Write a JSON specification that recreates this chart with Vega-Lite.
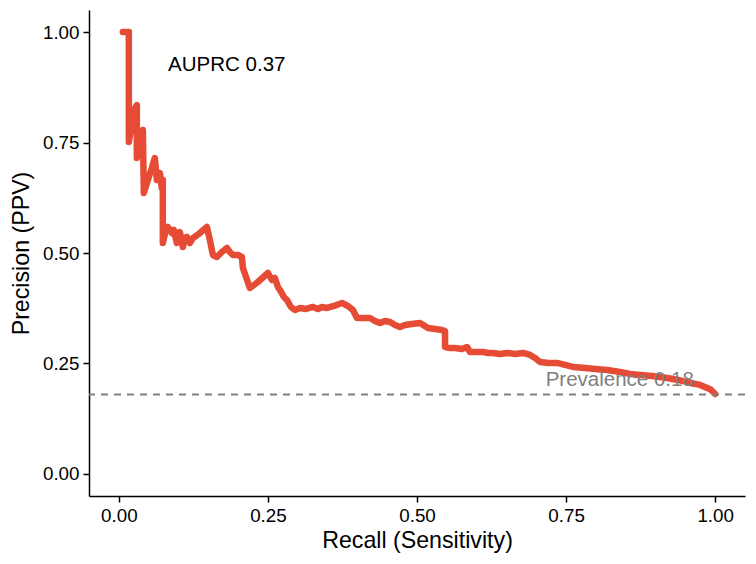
{
  "$schema": "https://vega.github.io/schema/vega-lite/v6.json",
  "width": 656,
  "height": 486,
  "autosize": {"type": "none"},
  "padding": {"left": 89, "top": 10, "right": 11, "bottom": 68},
  "background": "white",
  "config": {
    "view": {"stroke": null},
    "axis": {
      "grid": false,
      "domainColor": "black",
      "domainWidth": 1.5,
      "tickColor": "black",
      "tickWidth": 1.5,
      "tickSize": 6,
      "labelFont": "Liberation Sans",
      "labelFontSize": 18.8,
      "labelColor": "black",
      "labelPadding": 4,
      "titleFont": "Liberation Sans",
      "titleFontSize": 23.2,
      "titleFontWeight": "normal",
      "titleColor": "black",
      "titlePadding": 5
    }
  },
  "datasets": {
    "curve": [
      {"i": 1, "recall": 0.0067, "precision": 1.0},
      {"i": 2, "recall": 0.0168, "precision": 1.0},
      {"i": 3, "recall": 0.0168, "precision": 0.7511},
      {"i": 4, "recall": 0.0201, "precision": 0.7783},
      {"i": 5, "recall": 0.0252, "precision": 0.8235},
      {"i": 6, "recall": 0.0302, "precision": 0.8348},
      {"i": 7, "recall": 0.0302, "precision": 0.7149},
      {"i": 8, "recall": 0.0352, "precision": 0.733},
      {"i": 9, "recall": 0.0403, "precision": 0.7783},
      {"i": 10, "recall": 0.0419, "precision": 0.6357},
      {"i": 11, "recall": 0.0487, "precision": 0.6652},
      {"i": 12, "recall": 0.0554, "precision": 0.6923},
      {"i": 13, "recall": 0.0604, "precision": 0.7149},
      {"i": 14, "recall": 0.0638, "precision": 0.6652},
      {"i": 15, "recall": 0.0688, "precision": 0.681},
      {"i": 16, "recall": 0.0721, "precision": 0.6471},
      {"i": 17, "recall": 0.0738, "precision": 0.6652},
      {"i": 18, "recall": 0.0738, "precision": 0.5226},
      {"i": 19, "recall": 0.0789, "precision": 0.552},
      {"i": 20, "recall": 0.0822, "precision": 0.5588},
      {"i": 21, "recall": 0.0889, "precision": 0.5452},
      {"i": 22, "recall": 0.0923, "precision": 0.552},
      {"i": 23, "recall": 0.0973, "precision": 0.5226},
      {"i": 24, "recall": 0.1023, "precision": 0.5475},
      {"i": 25, "recall": 0.1074, "precision": 0.5136},
      {"i": 26, "recall": 0.1107, "precision": 0.5339},
      {"i": 27, "recall": 0.1141, "precision": 0.5362},
      {"i": 28, "recall": 0.1191, "precision": 0.5226},
      {"i": 29, "recall": 0.1242, "precision": 0.5339},
      {"i": 30, "recall": 0.1359, "precision": 0.5452},
      {"i": 31, "recall": 0.1477, "precision": 0.5588},
      {"i": 32, "recall": 0.1527, "precision": 0.5294},
      {"i": 33, "recall": 0.1577, "precision": 0.4955},
      {"i": 34, "recall": 0.1644, "precision": 0.491},
      {"i": 35, "recall": 0.1728, "precision": 0.5023},
      {"i": 36, "recall": 0.1812, "precision": 0.5113},
      {"i": 37, "recall": 0.1862, "precision": 0.5023},
      {"i": 38, "recall": 0.1913, "precision": 0.4955},
      {"i": 39, "recall": 0.1997, "precision": 0.4955},
      {"i": 40, "recall": 0.2064, "precision": 0.491},
      {"i": 41, "recall": 0.2081, "precision": 0.4661},
      {"i": 42, "recall": 0.2198, "precision": 0.4208},
      {"i": 43, "recall": 0.2332, "precision": 0.4344},
      {"i": 44, "recall": 0.25, "precision": 0.4548},
      {"i": 45, "recall": 0.2567, "precision": 0.4389},
      {"i": 46, "recall": 0.2617, "precision": 0.4434},
      {"i": 47, "recall": 0.2668, "precision": 0.4231},
      {"i": 48, "recall": 0.2701, "precision": 0.4163},
      {"i": 49, "recall": 0.2768, "precision": 0.4005},
      {"i": 50, "recall": 0.2819, "precision": 0.3937},
      {"i": 51, "recall": 0.2886, "precision": 0.3778},
      {"i": 52, "recall": 0.2953, "precision": 0.371},
      {"i": 53, "recall": 0.3037, "precision": 0.3756},
      {"i": 54, "recall": 0.3138, "precision": 0.3733},
      {"i": 55, "recall": 0.3255, "precision": 0.3778},
      {"i": 56, "recall": 0.3339, "precision": 0.3733},
      {"i": 57, "recall": 0.3406, "precision": 0.3778},
      {"i": 58, "recall": 0.349, "precision": 0.3756},
      {"i": 59, "recall": 0.3607, "precision": 0.3801},
      {"i": 60, "recall": 0.3742, "precision": 0.3869},
      {"i": 61, "recall": 0.3842, "precision": 0.3801},
      {"i": 62, "recall": 0.3926, "precision": 0.371},
      {"i": 63, "recall": 0.3993, "precision": 0.3529},
      {"i": 64, "recall": 0.4111, "precision": 0.3529},
      {"i": 65, "recall": 0.4211, "precision": 0.3529},
      {"i": 66, "recall": 0.4295, "precision": 0.3462},
      {"i": 67, "recall": 0.4379, "precision": 0.3416},
      {"i": 68, "recall": 0.4463, "precision": 0.3462},
      {"i": 69, "recall": 0.4547, "precision": 0.3439},
      {"i": 70, "recall": 0.4631, "precision": 0.3371},
      {"i": 71, "recall": 0.4715, "precision": 0.3326},
      {"i": 72, "recall": 0.4799, "precision": 0.3371},
      {"i": 73, "recall": 0.4916, "precision": 0.3394},
      {"i": 74, "recall": 0.505, "precision": 0.3416},
      {"i": 75, "recall": 0.5185, "precision": 0.3303},
      {"i": 76, "recall": 0.5302, "precision": 0.3281},
      {"i": 77, "recall": 0.5419, "precision": 0.3258},
      {"i": 78, "recall": 0.547, "precision": 0.3235},
      {"i": 79, "recall": 0.547, "precision": 0.2873},
      {"i": 80, "recall": 0.5554, "precision": 0.2851},
      {"i": 81, "recall": 0.5638, "precision": 0.2851},
      {"i": 82, "recall": 0.5755, "precision": 0.2828},
      {"i": 83, "recall": 0.5839, "precision": 0.2873},
      {"i": 84, "recall": 0.5889, "precision": 0.276},
      {"i": 85, "recall": 0.6007, "precision": 0.276},
      {"i": 86, "recall": 0.6107, "precision": 0.276},
      {"i": 87, "recall": 0.6191, "precision": 0.2738},
      {"i": 88, "recall": 0.6275, "precision": 0.2738},
      {"i": 89, "recall": 0.6393, "precision": 0.2715},
      {"i": 90, "recall": 0.651, "precision": 0.2738},
      {"i": 91, "recall": 0.6644, "precision": 0.2715},
      {"i": 92, "recall": 0.6779, "precision": 0.2738},
      {"i": 93, "recall": 0.6896, "precision": 0.2692},
      {"i": 94, "recall": 0.698, "precision": 0.2624},
      {"i": 95, "recall": 0.7064, "precision": 0.2534},
      {"i": 96, "recall": 0.7198, "precision": 0.2511},
      {"i": 97, "recall": 0.7349, "precision": 0.2511},
      {"i": 98, "recall": 0.7483, "precision": 0.2466},
      {"i": 99, "recall": 0.7617, "precision": 0.2421},
      {"i": 100, "recall": 0.7819, "precision": 0.2398},
      {"i": 101, "recall": 0.7987, "precision": 0.2376},
      {"i": 102, "recall": 0.8188, "precision": 0.2353},
      {"i": 103, "recall": 0.8406, "precision": 0.2308},
      {"i": 104, "recall": 0.8574, "precision": 0.2262},
      {"i": 105, "recall": 0.8742, "precision": 0.224},
      {"i": 106, "recall": 0.8943, "precision": 0.2217},
      {"i": 107, "recall": 0.9195, "precision": 0.2172},
      {"i": 108, "recall": 0.9379, "precision": 0.2127},
      {"i": 109, "recall": 0.9581, "precision": 0.2059},
      {"i": 110, "recall": 0.9748, "precision": 0.2014},
      {"i": 111, "recall": 0.9866, "precision": 0.1946},
      {"i": 112, "recall": 0.9933, "precision": 0.19},
      {"i": 113, "recall": 1.0, "precision": 0.181}
    ],
    "labels": [
      {"recall": 0.181, "precision": 0.925, "label": "AUPRC 0.37", "kind": "auprc"},
      {"recall": 0.84, "precision": 0.213, "label": "Prevalence 0.18", "kind": "prev"}
    ]
  },
  "layer": [
    {
      "data": {"name": "curve"},
      "mark": {"type": "line", "color": "#E64B35", "strokeWidth": 6.5, "strokeJoin": "round", "strokeCap": "round", "clip": true},
      "encoding": {
        "x": {"field": "recall", "type": "quantitative", "scale": {"domain": [-0.05, 1.05], "nice": false, "zero": false},
          "axis": {"values": [0, 0.25, 0.5, 0.75, 1], "format": ".2f", "title": "Recall (Sensitivity)"}},
        "y": {"field": "precision", "type": "quantitative", "scale": {"domain": [-0.05, 1.05], "nice": false, "zero": false},
          "axis": {"values": [0, 0.25, 0.5, 0.75, 1], "format": ".2f", "title": "Precision (PPV)", "titlePadding": 9}},
        "order": {"field": "i", "type": "quantitative"}
      }
    },
    {
      "data": {"values": [{"prevalence": 0.18}]},
      "mark": {"type": "rule", "color": "#808080", "strokeWidth": 2, "strokeDash": [7, 6]},
      "encoding": {
        "y": {"field": "prevalence", "type": "quantitative"}
      }
    },
    {
      "data": {"name": "labels"},
      "mark": {"type": "text", "font": "Liberation Sans", "fontSize": 20.5, "align": "center", "baseline": "middle"},
      "encoding": {
        "x": {"field": "recall", "type": "quantitative"},
        "y": {"field": "precision", "type": "quantitative"},
        "text": {"field": "label"},
        "color": {"field": "kind", "type": "nominal", "scale": {"domain": ["auprc", "prev"], "range": ["black", "#7F7F7F"]}, "legend": null}
      }
    }
  ]
}
